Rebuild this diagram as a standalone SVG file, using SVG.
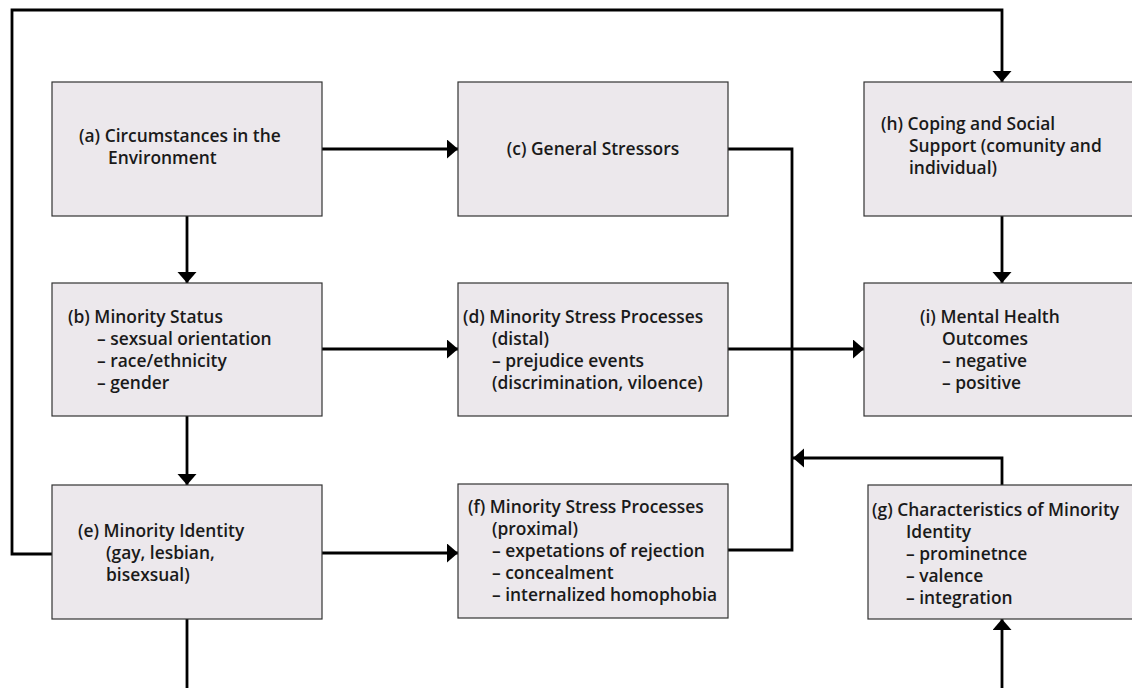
<svg xmlns="http://www.w3.org/2000/svg" width="1132" height="688" viewBox="0 0 1132 688">
<defs>
<style>
.box{fill:#ece8ec;stroke:#333;stroke-width:1.2}
.t{font-family:"Open Sans","Noto Sans","DejaVu Sans",sans-serif;font-weight:600;font-size:17.4px;fill:#1a1a1a}
.c{fill:none;stroke:#000;stroke-width:2.8}
</style>
<marker id="ah" markerUnits="userSpaceOnUse" markerWidth="12" markerHeight="20" refX="11" refY="9.5" orient="auto">
<path d="M0,0 L11,9.5 L0,19 z" fill="#000"/>
</marker>
</defs>
<rect width="1132" height="688" fill="#fff"/>
<g id="connectors">
<path class="c" d="M52,554 H12 V10 H1002 V82" marker-end="url(#ah)"/>
<path class="c" d="M322,149 H458" marker-end="url(#ah)"/>
<path class="c" d="M187,216 V283" marker-end="url(#ah)"/>
<path class="c" d="M187,416 V485" marker-end="url(#ah)"/>
<path class="c" d="M322,349 H458" marker-end="url(#ah)"/>
<path class="c" d="M728,349 H864" marker-end="url(#ah)"/>
<path class="c" d="M1002,216 V283" marker-end="url(#ah)"/>
<path class="c" d="M322,553 H458" marker-end="url(#ah)"/>
<path class="c" d="M728,149 H792 V550 H728"/>
<path class="c" d="M1002,485 V458 H793" marker-end="url(#ah)"/>
<path class="c" d="M187,619 V700 H1002 V619" marker-end="url(#ah)"/>
</g>
<g id="node-a">
<rect class="box" x="52" y="82" width="270" height="134"/>
<text class="t" x="79" y="142">(a) Circumstances in the</text>
<text class="t" x="108" y="164">Environment</text>
</g>
<g id="node-c">
<rect class="box" x="458" y="82" width="270" height="134"/>
<text class="t" x="593" y="155" text-anchor="middle">(c) General Stressors</text>
</g>
<g id="node-h">
<rect class="box" x="864" y="82" width="270" height="134"/>
<text class="t" x="881" y="130">(h) Coping and Social</text>
<text class="t" x="909" y="152">Support (comunity and</text>
<text class="t" x="909" y="174">individual)</text>
</g>
<g id="node-b">
<rect class="box" x="52" y="283" width="270" height="133"/>
<text class="t" x="68" y="323">(b) Minority Status</text>
<text class="t" x="97" y="345">– sexsual orientation</text>
<text class="t" x="97" y="367">– race/ethnicity</text>
<text class="t" x="97" y="389">– gender</text>
</g>
<g id="node-d">
<rect class="box" x="458" y="283" width="270" height="133"/>
<text class="t" x="463" y="323">(d) Minority Stress Processes</text>
<text class="t" x="492" y="345">(distal)</text>
<text class="t" x="492" y="367">– prejudice events</text>
<text class="t" x="492" y="389">(discrimination, viloence)</text>
</g>
<g id="node-i">
<rect class="box" x="864" y="283" width="270" height="133"/>
<text class="t" x="920" y="323">(i) Mental Health</text>
<text class="t" x="942" y="345">Outcomes</text>
<text class="t" x="942" y="367">– negative</text>
<text class="t" x="942" y="389">– positive</text>
</g>
<g id="node-e">
<rect class="box" x="52" y="485" width="270" height="134"/>
<text class="t" x="78" y="537">(e) Minority Identity</text>
<text class="t" x="106" y="559">(gay, lesbian,</text>
<text class="t" x="106" y="581">bisexsual)</text>
</g>
<g id="node-f">
<rect class="box" x="458" y="484" width="270" height="134"/>
<text class="t" x="468" y="513">(f) Minority Stress Processes</text>
<text class="t" x="492" y="535">(proximal)</text>
<text class="t" x="492" y="557">– expetations of rejection</text>
<text class="t" x="492" y="579">– concealment</text>
<text class="t" x="492" y="601">– internalized homophobia</text>
</g>
<g id="node-g">
<rect class="box" x="868" y="485" width="270" height="134"/>
<text class="t" x="872" y="516">(g) Characteristics of Minority</text>
<text class="t" x="906" y="538">Identity</text>
<text class="t" x="906" y="560">– prominetnce</text>
<text class="t" x="906" y="582">– valence</text>
<text class="t" x="906" y="604">– integration</text>
</g>
</svg>
